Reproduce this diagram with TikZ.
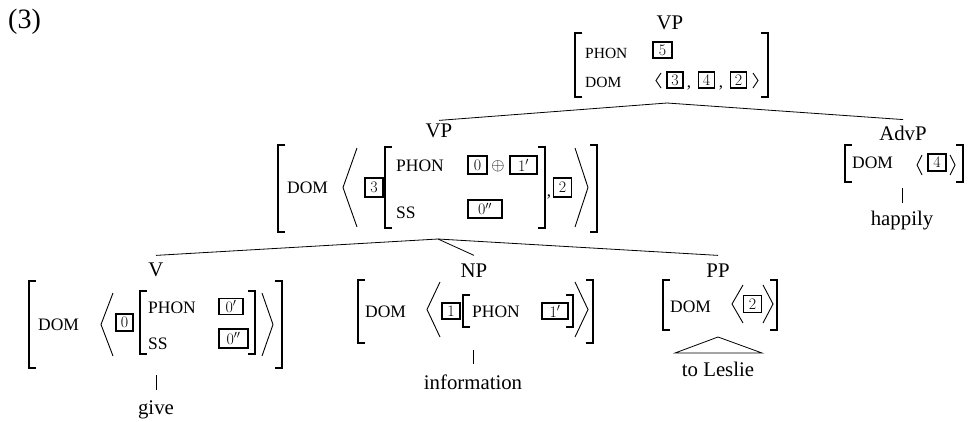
\documentclass[tikz,border=0pt]{standalone}
\usepackage{fix-cm}
\usepackage[no-math]{fontspec}
\setmainfont{Liberation Serif}
\newcommand\AVMlb[3]{\draw[brk] (#1+7,#2) -- (#1,#2) -- (#1,#3) -- (#1+7,#3);}
\newcommand\AVMrb[3]{\draw[brk] (#1-7,#2) -- (#1,#2) -- (#1,#3) -- (#1-7,#3);}
\newcommand\AVMang[4]{\draw[ang] (#2,#3) -- (#1,{(#3+#4)/2}) -- (#2,#4);}
\begin{document}
\begin{tikzpicture}[x=1pt,y=-1pt,
  lab/.style={inner sep=0pt, outer sep=0pt, anchor=base, font=\fontsize{20.8}{24}\selectfont},
  word/.style={inner sep=0pt, outer sep=0pt, anchor=base, font=\fontsize{20.8}{24}\selectfont},
  feat/.style={inner sep=0pt, anchor=west, font=\fontsize{17.5}{19}\selectfont},
  featsm/.style={inner sep=0pt, anchor=west, font=\fontsize{15.5}{17}\selectfont},
  tag/.style={draw, line width=1.9pt, inner sep=0pt, minimum width=18pt, minimum height=17pt, font=\fontsize{16}{17}\fontfamily{lmr}\selectfont},
  punct/.style={inner sep=0pt, anchor=base, font=\fontsize{17}{17}\selectfont},
  brk/.style={line width=1.2pt},
  ang/.style={line width=0.9pt},
  branch/.style={line width=0.8pt}]
\useasboundingbox (0,0) rectangle (968,421);
\node[anchor=base west, inner sep=0pt, font=\fontsize{28}{30}\selectfont] (exno) at (8,28) {(3)};

% ---- top VP
\node[lab] (vp1) at (670,29) {VP};
\AVMlb{575}{33}{97} \AVMrb{768}{33}{97}
\node[featsm] (vp1phon) at (585,53) {PHON};
\node[featsm] (vp1dom) at (585,82) {DOM};
\node[tag, minimum width=19pt, minimum height=16pt] (t5) at (662.5,50) {5};
\AVMang{656}{661}{73}{88}
\node[tag, minimum width=16pt, minimum height=16pt] (t3a) at (675,80) {3};
\node[punct] (c1) at (689,87) {,};
\node[tag, minimum width=16pt, minimum height=16pt] (t4a) at (706.5,80) {4};
\node[punct] (c2) at (721,87) {,};
\node[tag, minimum width=16pt, minimum height=16pt] (t2a) at (738.5,80) {2};
\AVMang{758}{753}{73}{88}
\coordinate (vp1foot) at (667,103);

% ---- middle VP
\node[lab] (vp2) at (439,137) {VP};
\AVMlb{278}{145}{232} \AVMrb{597}{145}{232}
\node[feat] (vp2dom) at (287,188) {DOM};
\AVMang{343}{357}{148}{227}
\node[tag, minimum height=19pt] (t3b) at (374,187.5) {3};
\AVMlb{385}{147}{228} \AVMrb{545}{147}{228}
\node[feat] (vp2phon) at (396,166) {PHON};
\node[feat] (vp2ss) at (396,212.5) {SS};
\node[tag, minimum width=19pt, minimum height=18pt] (t0a) at (477.5,165) {0};
\node[inner sep=0pt, font=\fontsize{17}{17}\selectfont] (oplus) at (498,166) {$\oplus$};
\node[tag, minimum width=27pt, minimum height=18pt] (t1pa) at (523.5,165) {1$'$};
\node[tag, minimum width=34pt, minimum height=18pt] (t0ppa) at (485,209) {0$''$};
\node[punct] (c3) at (549,196) {,};
\node[tag, minimum height=19pt] (t2b) at (562.5,187.5) {2};
\AVMang{588}{575}{148}{227}
\coordinate (vp2foot) at (438,239);

% ---- AdvP
\node[lab] (advp) at (903,140) {AdvP};
\AVMlb{845}{145}{182} \AVMrb{963}{145}{182}
\node[feat] (advpdom) at (852,163) {DOM};
\AVMang{917}{922}{155}{175}
\node[tag] (t4b) at (937,162.5) {4};
\AVMang{955}{950}{155}{175}
\coordinate (advpfoot) at (902,188);
\node[word] (happily) at (902,225) {happily};

% ---- V
\node[lab] (v) at (156,276) {V};
\AVMlb{29}{281}{368} \AVMrb{282}{281}{368}
\node[feat] (vdom) at (38,325) {DOM};
\AVMang{101}{113}{293}{356}
\node[tag, minimum width=17pt] (t0b) at (124.5,322.5) {0};
\AVMlb{140}{291}{354} \AVMrb{255}{291}{354}
\node[feat] (vphon) at (148,308) {PHON};
\node[feat] (vss) at (148,343.5) {SS};
\node[tag, minimum width=24pt, minimum height=16pt] (t0pb) at (231,306.5) {0$'$};
\node[tag, minimum width=29pt, minimum height=19pt] (t0ppb) at (233.5,338.5) {0$''$};
\AVMang{273}{262}{293}{356}
\coordinate (vfoot) at (156,375);
\node[word] (give) at (156,414) {give};

% ---- NP
\node[lab] (np) at (474,277) {NP};
\AVMlb{358}{280}{343} \AVMrb{593}{280}{343}
\node[feat] (npdom) at (365,312) {DOM};
\AVMang{427}{440}{282}{337}
\node[tag, minimum height=16pt] (t1) at (451,311) {1};
\AVMlb{463}{295}{327} \AVMrb{573}{295}{327}
\node[feat] (npphon) at (472,312) {PHON};
\node[tag, minimum width=26pt, minimum height=16pt] (t1pb) at (555,311) {1$'$};
\AVMang{588}{575}{282}{337}
\coordinate (npfoot) at (473,350);
\node[word] (information) at (473,389) {information};

% ---- PP
\node[lab] (pp) at (718,277) {PP};
\AVMlb{663}{280}{330} \AVMrb{777}{280}{330}
\node[feat] (ppdom) at (670,307) {DOM};
\AVMang{732}{743}{285}{323}
\node[tag] (t2c) at (752.5,304) {2};
\AVMang{773}{763}{285}{323}
\coordinate (ppfoot) at (718,337);
\node[word] (toleslie) at (718,376) {to Leslie};

% ---- branches
\draw[branch] (vp1foot) -- ([yshift=3pt]vp2.north);
\draw[branch] (vp1foot) -- ([yshift=6pt]advp.north);
\draw[branch] (vp2foot) -- ([yshift=7pt]v.north);
\draw[branch] (vp2foot) -- ([yshift=8pt]np.north);
\draw[branch] (vp2foot) -- ([yshift=8pt]pp.north);
\draw[branch] (advpfoot) -- ([yshift=8pt]happily.north);
\draw[branch] (vfoot) -- ([yshift=10pt]give.north);
\draw[branch] (npfoot) -- ([yshift=10pt]information.north);
\draw[branch] (ppfoot) -- (675,353) -- (762,353) -- cycle;
\end{tikzpicture}
\end{document}
